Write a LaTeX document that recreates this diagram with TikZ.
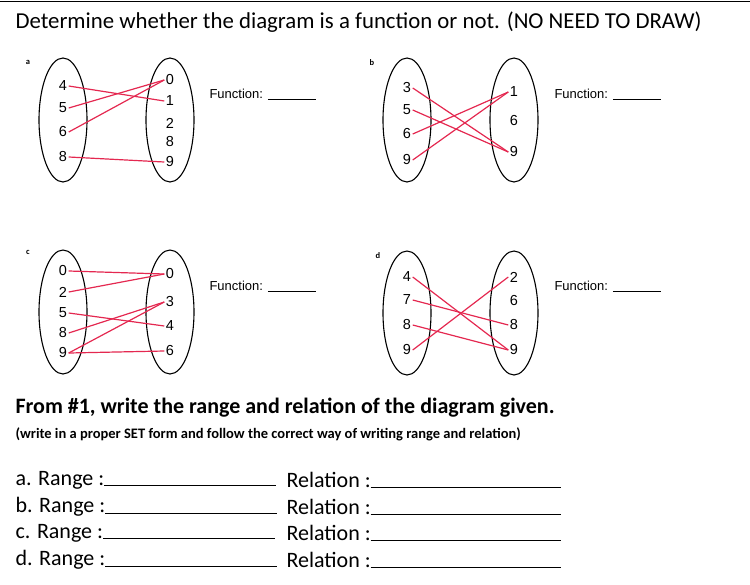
\documentclass[tikz,border=0pt]{standalone}
\usetikzlibrary{shapes.geometric}
\usepackage{fontspec}
\setmainfont{Carlito}
\newfontfamily\arial{Liberation Sans}
\begin{document}
\begin{tikzpicture}[x=1pt,y=-1pt,
  setel/.style={draw,ellipse,minimum width=48,minimum height=124,line width=1.1pt},
  el/.style={font=\arial\fontsize{14.5}{14.5}\selectfont,inner sep=1.5pt},
  map/.style={draw={rgb,255:red,228;green,40;blue,80},line width=1.2pt},
  fn/.style={font=\arial\fontsize{13}{13}\selectfont,anchor=west},
  tag/.style={font=\bfseries\fontsize{8.5}{8.5}\selectfont}]
\useasboundingbox (0,0) rectangle (750,584);
\draw[line width=1pt] (0,1) -- (750,1);
\node[anchor=west,font=\fontsize{22.8}{22.8}\selectfont] (title) at (12,22) {Determine whether the diagram is a function or not. (NO NEED TO DRAW)};
% a
\node[tag] (ta) at (28,62) {a};
\node[setel] (aL) at (63,120) {};
\node[setel] (aR) at (170,120) {};
\node[el] (a4) at (63,86) {4};\node[el] (a5) at (63,108) {5};\node[el] (a6) at (63,132) {6};\node[el] (a8) at (63,157) {8};
\node[el] (b0x) at (170,80) {0};\node[el] (a1r) at (170,101) {1};\node[el] (a2r) at (170,123) {2};\node[el] (a8r) at (170,142) {8};\node[el] (a9r) at (170,162) {9};
\draw[map] (a4.east) -- (a1r.west); \draw[map] (a5.east) -- (b0x.west); \draw[map] (a6.east) -- (b0x.west); \draw[map] (a8.east) -- (a9r.west);
\node[fn] (fa) at (206,94) {Function: \rule[-1pt]{48pt}{0.4pt}};
% b
\node[tag] (tb) at (372,63) {b};
\node[setel] (bL) at (407,120) {};
\node[setel] (bR) at (514,120) {};
\node[el] (b3) at (407,88) {3};\node[el] (b5) at (407,110) {5};\node[el] (b6) at (407,134) {6};\node[el] (b9) at (407,160) {9};
\node[el] (b1r) at (514,92) {1};\node[el] (b6r) at (514,121) {6};\node[el] (b9r) at (514,152) {9};
\draw[map] (b3.east) -- (b9r.west); \draw[map] (b5.east) -- (b9r.west); \draw[map] (b6.east) -- (b1r.west); \draw[map] (b9.east) -- (b1r.west);
\node[fn] (fb) at (551,94) {Function: \rule[-1pt]{48pt}{0.4pt}};
% c
\node[tag] (tc) at (28,252) {c};
\node[setel] (cL) at (63,312) {};
\node[setel] (cR) at (170,312) {};
\node[el] (c0) at (63,271) {0};\node[el] (c2) at (63,292) {2};\node[el] (c5) at (63,313) {5};\node[el] (c8) at (63,333) {8};\node[el] (c9) at (63,353) {9};
\node[el] (c0r) at (170,274) {0};\node[el] (c3r) at (170,302) {3};\node[el] (c4r) at (170,326) {4};\node[el] (c6r) at (170,351) {6};
\draw[map] (c0.east) -- (c0r.west); \draw[map] (c2.east) -- (c0r.west); \draw[map] (c5.east) -- (c4r.west);
\draw[map] (c8.east) -- (c3r.west); \draw[map] (c9.east) -- (c3r.west); \draw[map] (c9.east) -- (c6r.west);
\node[fn] (fc) at (206,286) {Function: \rule[-1pt]{48pt}{0.4pt}};
% d
\node[tag] (td) at (378,256) {d};
\node[setel] (dL) at (407,313) {};
\node[setel] (dR) at (514,313) {};
\node[el] (d4) at (407,277) {4};\node[el] (d7) at (407,300) {7};\node[el] (d8) at (407,325) {8};\node[el] (d9) at (407,350) {9};
\node[el] (d2r) at (514,277) {2};\node[el] (d6r) at (514,301) {6};\node[el] (d8r) at (514,325) {8};\node[el] (d9r) at (514,350) {9};
\draw[map] (d4.east) -- (d9r.west); \draw[map] (d7.east) -- (d8r.west); \draw[map] (d8.east) -- (d9r.west); \draw[map] (d9.east) -- (d2r.west);
\node[fn] (fd) at (551,286) {Function: \rule[-1pt]{48pt}{0.4pt}};
% text
\node[anchor=west,font=\bfseries\fontsize{22}{22}\selectfont] (from) at (12,408) {From \#1, write the range and relation of the diagram given.};
\node[anchor=west,font=\bfseries\fontsize{14.5}{14.5}\selectfont] (paren) at (12,434) {(write in a proper SET form and follow the correct way of writing range and relation)};
\foreach \l/\y in {a/480,b/507,c/533,d/560}{
  \node[anchor=west,font=\fontsize{22}{22}\selectfont] (r\l) at (12,\y) {\l. Range :\rule[-1pt]{172pt}{0.7pt}};
  \node[anchor=west,font=\fontsize{22}{22}\selectfont] (q\l) at (283,\y) {Relation :\rule[-1pt]{190pt}{0.7pt}};
}
\end{tikzpicture}
\end{document}
